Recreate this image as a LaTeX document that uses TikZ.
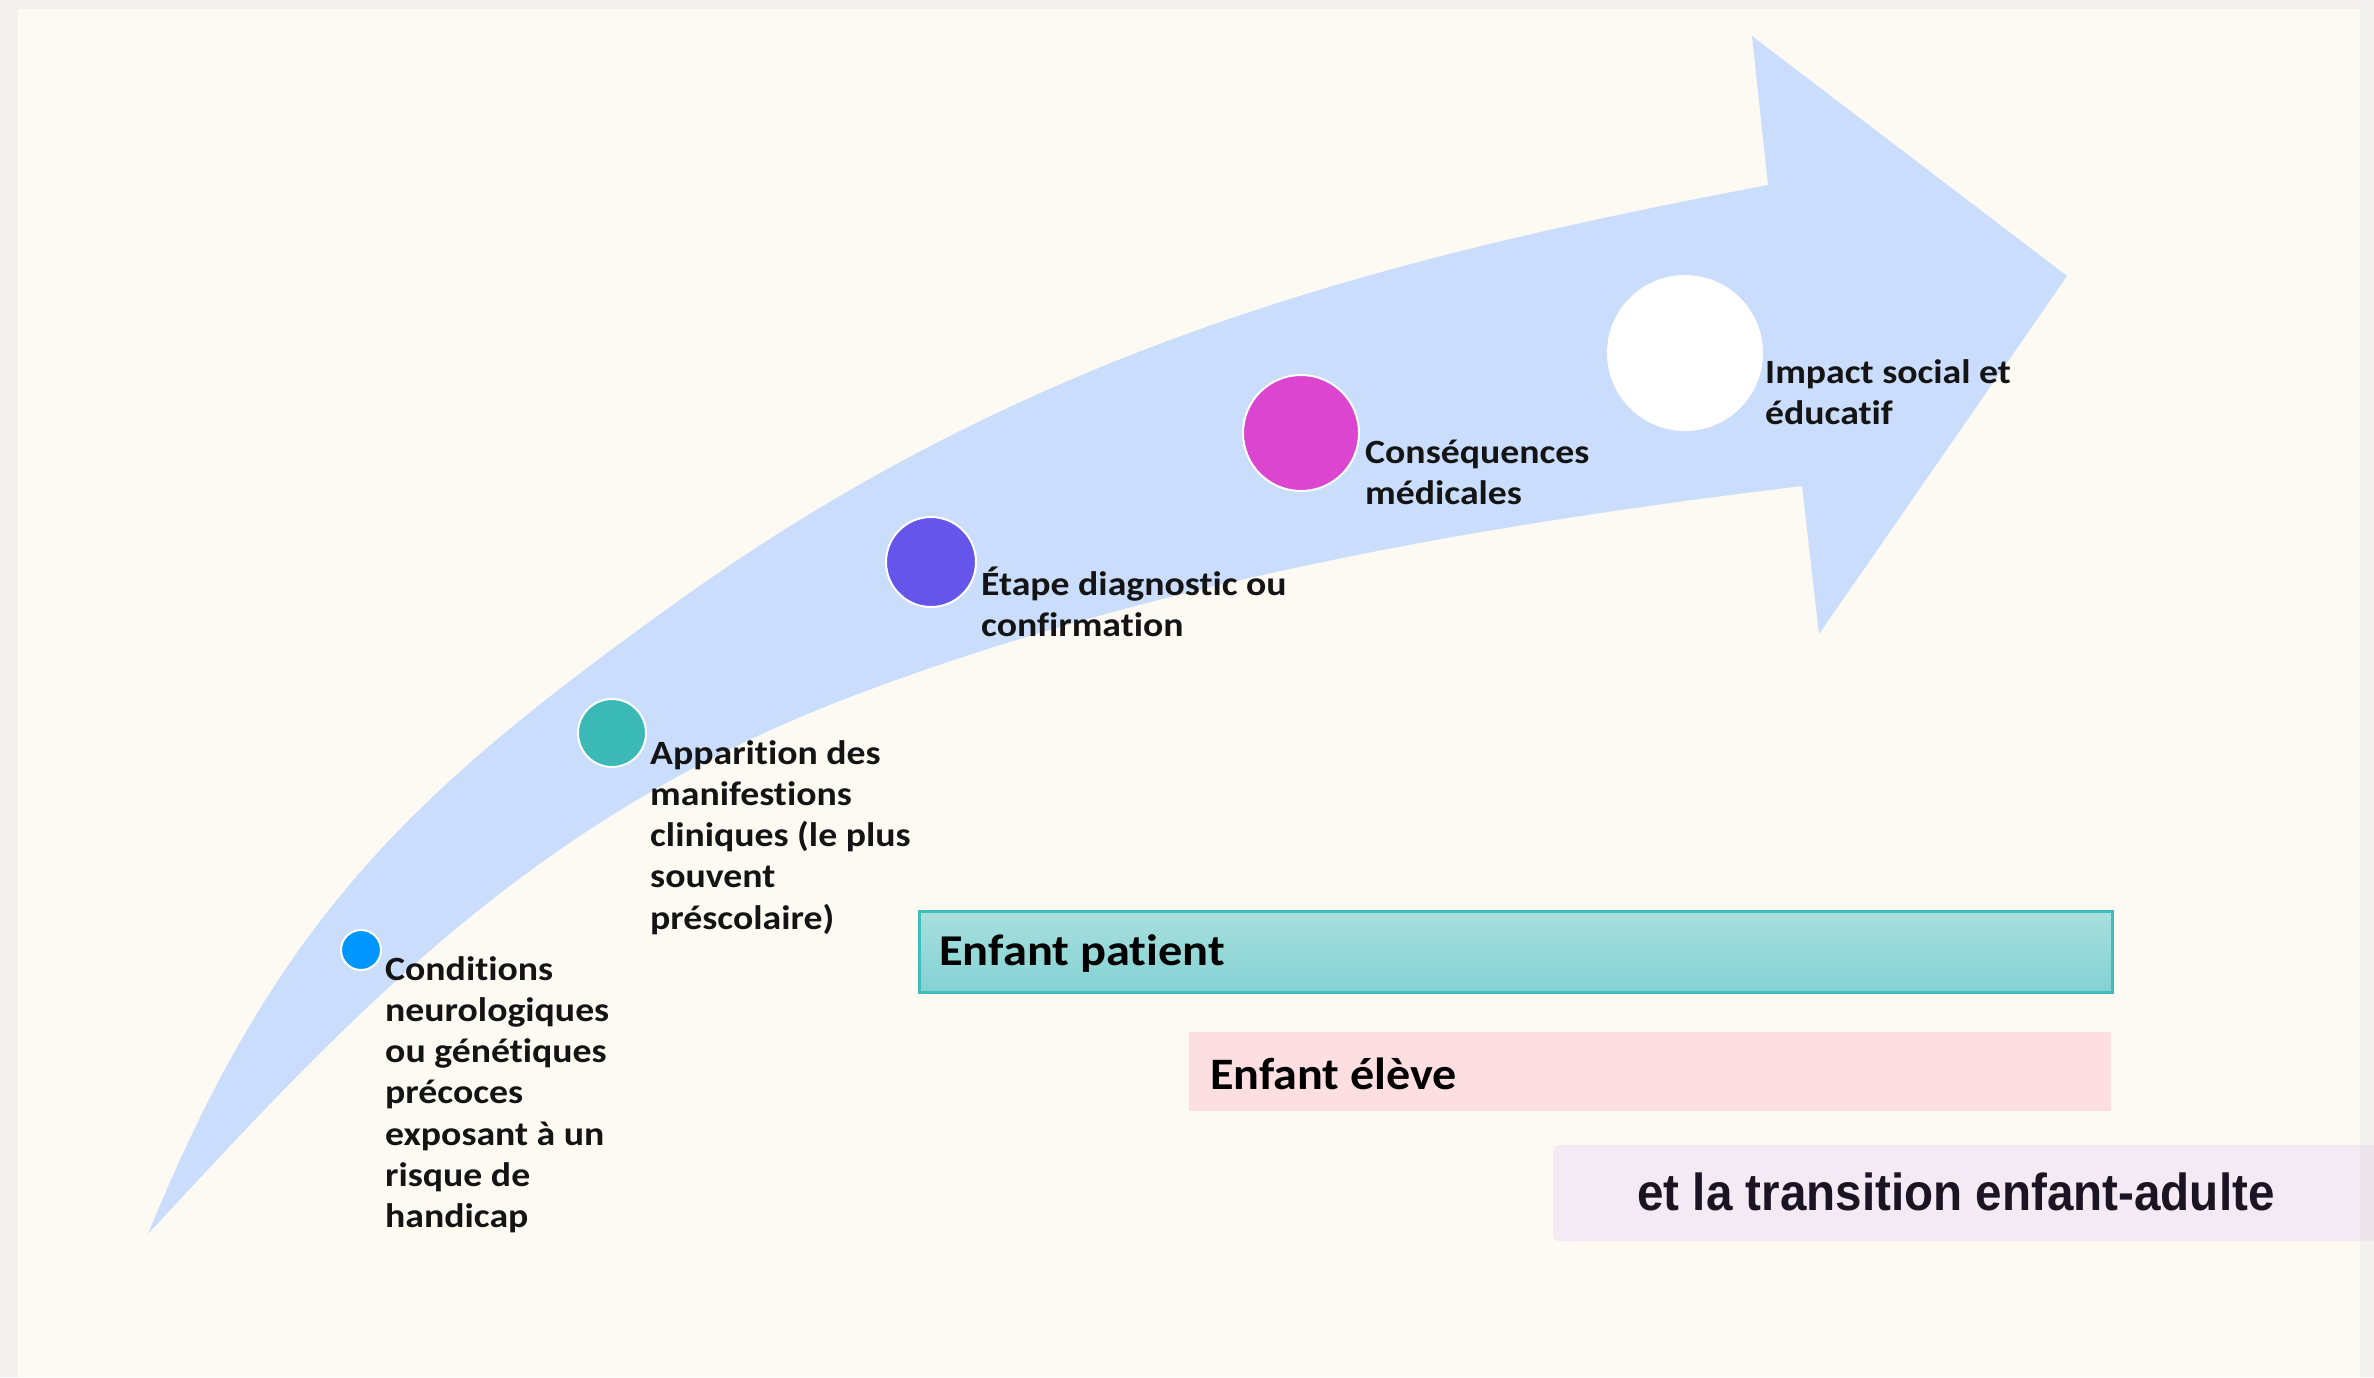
\documentclass[tikz,border=0pt]{standalone}
\usepackage{graphicx}
\usepackage{fontspec}
\setmainfont{Carlito}[Ligatures={NoCommon}]
\newfontfamily\trfont{Liberation Sans}
\definecolor{bgout}{HTML}{F2F1ED}
\definecolor{bgin}{HTML}{FDFAF3}
\definecolor{arrowc}{HTML}{CADDFD}
\definecolor{cA}{HTML}{0096FF}
\definecolor{cB}{HTML}{3AB9B6}
\definecolor{cC}{HTML}{6655EA}
\definecolor{cD}{HTML}{DB45CF}
\definecolor{txt}{HTML}{141414}
\definecolor{pTop}{HTML}{A8DFDE}
\definecolor{pBot}{HTML}{84D2D3}
\definecolor{pBorder}{HTML}{3FBFBC}
\definecolor{eleve}{HTML}{FDDFE2}
\definecolor{trans}{HTML}{F4EAF3}
\definecolor{transdark}{HTML}{ECE6EC}
\definecolor{trtxt}{HTML}{1B1422}
\newcommand{\wide}[1]{\scalebox{1.11}[1]{#1}}
\begin{document}
\begin{tikzpicture}[x=1pt,y=-1pt,
  lbl/.style={anchor=base west, inner sep=0pt, text=txt, font=\fontsize{34}{41.3}\selectfont\bfseries},
  dot/.style={circle, inner sep=0pt, draw=white, line width=2pt},
  boxlbl/.style={anchor=base west, inner sep=0pt, text=black}
]
\useasboundingbox (0,0) rectangle (2374,1377);
\fill[bgout] (0,0) rectangle (2374,1377);
\fill[bgin] (18,9) rectangle (2360,1377);

% curved arrow
\fill[arrowc] (148,1234) .. controls (278,916) and (414,791) .. (674,604)
  .. controls (1034,345) and (1385,258) .. (1768,185)
  -- (1752,36) -- (2067,276) -- (1819,634) -- (1802,486)
  .. controls (1480,525) and (1155,581) .. (850,697)
  .. controls (530,819) and (348,1018) .. (148,1234)
  -- cycle;

% milestones
\node[dot, fill=cA, minimum size=40pt] (d1) at (361,950) {};
\node[dot, fill=cB, minimum size=68pt] (d2) at (612,733) {};
\node[dot, fill=cC, minimum size=90pt] (d3) at (931,562) {};
\node[dot, fill=cD, minimum size=116pt] (d4) at (1301,433) {};
\node[dot, fill=white, minimum size=154pt] (d5) at (1685,353) {};

\node[lbl] (t1) at (385,980) {\wide{\begin{tabular}[t]{@{}l@{}}Conditions\\neurologiques\\ou génétiques\\précoces\\exposant à un\\risque de\\handicap\end{tabular}}};
\node[lbl] (t2) at (650,764) {\wide{\begin{tabular}[t]{@{}l@{}}Apparition des\\manifestions\\cliniques (le plus\\souvent\\préscolaire)\end{tabular}}};
\node[lbl] (t3) at (981,595) {\wide{\begin{tabular}[t]{@{}l@{}}Étape diagnostic ou\\confirmation\end{tabular}}};
\node[lbl] (t4) at (1365,463) {\wide{\begin{tabular}[t]{@{}l@{}}Conséquences\\médicales\end{tabular}}};
\node[lbl] (t5) at (1765,383) {\wide{\begin{tabular}[t]{@{}l@{}}Impact social et\\éducatif\end{tabular}}};

% bars
\node[rectangle, minimum width=1193pt, minimum height=81pt, inner sep=0pt,
      top color=pTop, bottom color=pBot, draw=pBorder, line width=3pt] (patient) at (1515.5,951.5) {};
\node[boxlbl, font=\fontsize{44}{52}\selectfont\bfseries] (patientlbl) at (939,965) {\scalebox{1.10}[1]{Enfant patient}};

\node[rectangle, minimum width=922pt, minimum height=79pt, inner sep=0pt, fill=eleve] (eleve) at (1650,1071.5) {};
\node[boxlbl, font=\fontsize{45}{53}\selectfont\bfseries] (elevelbl) at (1210,1089) {\scalebox{1.07}[1]{Enfant élève}};

\fill[trans, rounded corners=5pt] (1553,1145) rectangle (2390,1241);
\fill[transdark] (2360,1145) rectangle (2374,1241);
\node[inner sep=0pt, anchor=base, text=trtxt, font=\trfont\fontsize{52}{60}\selectfont\bfseries] (translbl) at (1956,1210) {\scalebox{0.915}[1]{et la transition enfant-adulte}};
\end{tikzpicture}
\end{document}
